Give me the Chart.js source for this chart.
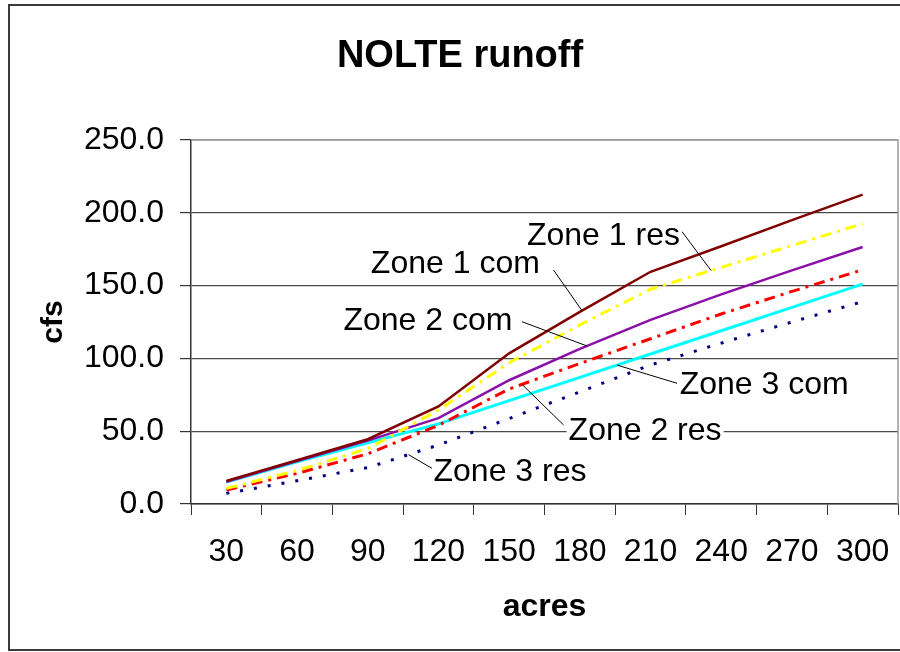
<!DOCTYPE html>
<html>
<head>
<meta charset="utf-8">
<title>NOLTE runoff</title>
<script src="https://cdn.jsdelivr.net/npm/chart.js@4/dist/chart.umd.min.js"></script>
<style>
  html, body { margin: 0; padding: 0; background: #ffffff; }
  canvas { display: block; }
</style>
</head>
<body>
<canvas id="runoff" width="900" height="652"></canvas>
<script>
// Drainage area (acres) along the category axis
const acres = [30, 60, 90, 120, 150, 180, 210, 240, 270, 300];

// Peak runoff (cfs) per zone and land use
const zone1Com = [15.8, 30.0, 44.5, 67.0, 103.5, 132.0, 159.5, 177.0, 195.0, 212.5];
const zone1Res = [10.7, 23.0, 38.0, 64.5, 97.0, 123.0, 147.5, 162.5, 177.5, 192.5];
const zone2Com = [15.3, 29.5, 43.5, 59.0, 85.0, 106.5, 126.5, 144.0, 160.5, 176.5];
const zone2Res = [9.6, 21.0, 34.5, 54.0, 79.0, 96.5, 113.5, 130.5, 146.0, 160.8];
const zone3Com = [15.0, 29.0, 42.0, 55.0, 71.0, 87.0, 103.0, 119.0, 135.0, 151.0];
const zone3Res = [7.3, 16.0, 25.0, 40.5, 58.7, 77.0, 95.5, 110.5, 125.0, 139.0];

// Y axis ticks
const cfsTicks = [0, 50, 100, 150, 200, 250];

const FONT = '"Liberation Sans", Arial, Helvetica, sans-serif';

const datasets = [
  { label: 'Zone 1 com', data: zone1Com, borderColor: '#800000', borderWidth: 2.5, borderDash: [] },
  { label: 'Zone 1 res', data: zone1Res, borderColor: '#ffff00', borderWidth: 3, borderDash: [11, 6, 3, 6] },
  { label: 'Zone 2 com', data: zone2Com, borderColor: '#8a10a8', borderWidth: 2.5, borderDash: [] },
  { label: 'Zone 2 res', data: zone2Res, borderColor: '#ff0000', borderWidth: 3, borderDash: [11, 6, 3, 6] },
  { label: 'Zone 3 com', data: zone3Com, borderColor: '#00ffff', borderWidth: 3, borderDash: [] },
  { label: 'Zone 3 res', data: zone3Res, borderColor: '#000080', borderWidth: 3, borderDash: [3, 11] }
].map(d => Object.assign(d, {
  fill: false, tension: 0, pointRadius: 0, pointHoverRadius: 0, borderCapStyle: 'butt'
}));

// Callout labels: text anchor (category index, cfs), leader start (index, cfs),
// and the fractional category index where the leader meets its series.
const callouts = [
  { text: 'Zone 1 res', series: 1, at: [4.252, 177.9], from: [6.446, 187.0], to: 6.856 },
  { text: 'Zone 1 com', series: 0, at: [2.044, 158.4], from: [4.628, 160.7], to: 5.030 },
  { text: 'Zone 2 com', series: 2, at: [1.656, 119.5], from: [4.181, 125.2], to: 5.101 },
  { text: 'Zone 3 com', series: 4, at: [6.412, 75.5], from: [6.375, 82.9], to: 5.526 },
  { text: 'Zone 2 res', series: 3, at: [4.841, 44.0], from: [4.770, 54.3], to: 4.181 },
  { text: 'Zone 3 res', series: 5, at: [2.930, 16.0], from: [2.907, 24.5], to: 2.576 }
];

function valueAt(arr, t) {
  const i = Math.max(0, Math.min(arr.length - 2, Math.floor(t)));
  return arr[i] + (arr[i + 1] - arr[i]) * (t - i);
}

const calloutPlugin = {
  id: 'callouts',
  afterDatasetsDraw(chart) {
    const { ctx, scales: { x, y } } = chart;
    ctx.save();
    ctx.font = '32px ' + FONT;
    ctx.textBaseline = 'alphabetic';
    ctx.textAlign = 'left';
    callouts.forEach(c => {
      const tx = x.getPixelForValue(c.at[0]);
      const ty = y.getPixelForValue(c.at[1]);
      const w = ctx.measureText(c.text).width;
      ctx.fillStyle = '#ffffff';
      ctx.fillRect(tx - 2, ty - 25, w + 4, 32);
      ctx.fillStyle = '#000000';
      ctx.fillText(c.text, tx, ty);
      const sx = x.getPixelForValue(c.from[0]);
      const sy = y.getPixelForValue(c.from[1]);
      const ex = x.getPixelForValue(c.to);
      const ey = y.getPixelForValue(valueAt(datasets[c.series].data, c.to));
      ctx.strokeStyle = '#000000';
      ctx.lineWidth = 1;
      ctx.beginPath();
      ctx.moveTo(sx, sy);
      ctx.lineTo(ex, ey);
      ctx.stroke();
    });
    ctx.restore();
  }
};

const framePlugin = {
  id: 'frame',
  afterDraw(chart) {
    const { ctx, chartArea: a } = chart;
    ctx.save();
    // outer chart border
    ctx.strokeStyle = '#3a3a3a';
    ctx.lineWidth = 2;
    ctx.strokeRect(9, 5, 900, 645);
    // plot area top and right edges
    ctx.strokeStyle = '#9a9a9a';
    ctx.lineWidth = 1.5;
    ctx.beginPath();
    ctx.moveTo(a.left, a.top);
    ctx.lineTo(a.right, a.top);
    ctx.lineTo(a.right, a.bottom);
    ctx.stroke();
    // title
    ctx.fillStyle = '#000000';
    ctx.textAlign = 'center';
    ctx.textBaseline = 'alphabetic';
    ctx.font = 'bold 38px ' + FONT;
    ctx.fillText('NOLTE runoff', 460, 66.5);
    // x axis title
    ctx.font = 'bold 32px ' + FONT;
    ctx.fillText('acres', (a.left + a.right) / 2, 616);
    // y axis title
    ctx.translate(62, (a.top + a.bottom) / 2);
    ctx.rotate(-Math.PI / 2);
    ctx.font = 'bold 30px ' + FONT;
    ctx.fillText('cfs', 0, 0);
    ctx.restore();
  }
};

new Chart(document.getElementById('runoff'), {
  type: 'line',
  data: { labels: acres.map(String), datasets },
  options: {
    responsive: false,
    devicePixelRatio: 1,
    animation: false,
    events: [],
    layout: { padding: { top: 140, right: 2, bottom: 0, left: 0 } },
    plugins: {
      legend: { display: false },
      title: { display: false },
      tooltip: { enabled: false }
    },
    scales: {
      x: {
        offset: true,
        grid: {
          offset: true,
          drawOnChartArea: false,
          drawTicks: true,
          tickLength: 11,
          color: '#333333',
          lineWidth: 1
        },
        border: { display: true, color: '#333333', width: 1.5 },
        ticks: {
          color: '#000000',
          font: { family: FONT, size: 32 },
          padding: 18,
          maxRotation: 0,
          autoSkip: false
        },
        afterFit(s) { s.height = 148; s.paddingLeft = 0; s.paddingRight = 0; }
      },
      y: {
        min: cfsTicks[0],
        max: cfsTicks[cfsTicks.length - 1],
        afterBuildTicks(s) { s.ticks = cfsTicks.map(v => ({ value: v })); },
        grid: {
          drawTicks: true,
          tickLength: 11,
          color: c => (c.tick && c.tick.value === 250 ? '#9a9a9a' : '#4a4a4a'),
          tickColor: '#333333',
          lineWidth: 1.2
        },
        border: { display: true, color: '#333333', width: 1.5 },
        ticks: {
          color: '#000000',
          font: { family: FONT, size: 32 },
          padding: 16,
          callback: v => Number(v).toFixed(1)
        },
        afterFit(s) { s.width = 191; }
      }
    }
  },
  plugins: [calloutPlugin, framePlugin]
});
</script>
</body>
</html>
